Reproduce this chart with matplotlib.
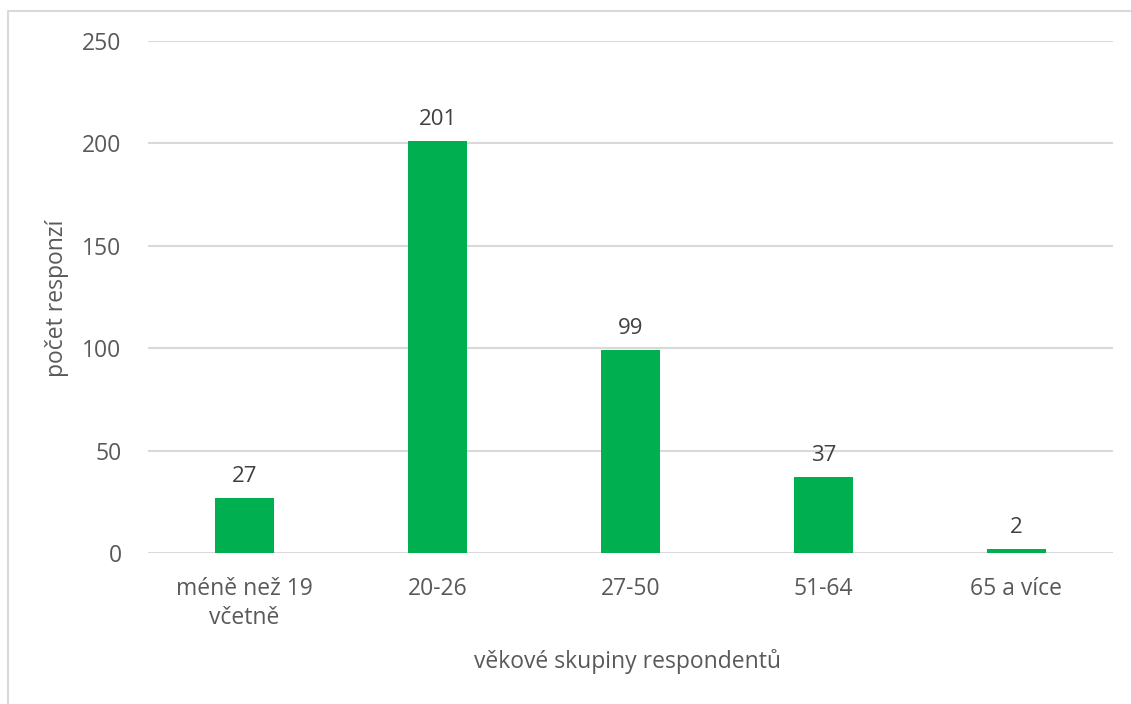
import numpy as np
import matplotlib.pyplot as plt
from matplotlib.lines import Line2D

# data
categories = ['méně než 19\nvčetně', '20-26', '27-50', '51-64', '65 a více']
counts = [27, 201, 99, 37, 2]
yticks = [0, 50, 100, 150, 200, 250]

plt.rcParams['font.family'] = ['Open Sans', 'DejaVu Sans']

W, H = 1131, 704
fig = plt.figure(figsize=(W / 100, H / 100), dpi=100)
ax = fig.add_axes([148 / W, 1 - 553 / H, (1113 - 148) / W, (553 - 41) / H])

x = np.arange(len(categories))
bars = ax.bar(x, counts, width=0.31, color='#00b050', zorder=3)

for rect, val in zip(bars, counts):
    ax.annotate(str(val), (rect.get_x() + rect.get_width() / 2, rect.get_height()),
                xytext=(0, 8), textcoords='offset points',
                ha='center', va='bottom', fontsize=16, color='#404040')

ax.set_xlim(-0.5, len(categories) - 0.5)
ax.set_ylim(0, 250)
ax.set_yticks(yticks)
ax.set_xticks(x)
ax.set_xticklabels(categories, fontsize=16.5, color='#595959', linespacing=1.3)
ax.tick_params(axis='y', labelsize=16.5, labelcolor='#595959', length=0, pad=19)
ax.tick_params(axis='x', length=0, pad=17)
ax.grid(axis='y', color='#d9d9d9', linewidth=1.5, zorder=0)
for s in ax.spines.values():
    s.set_visible(False)

fig.text(57 / W, 1 - 298 / H, 'počet responzí', fontsize=16.5, rotation=90,
         color='#595959', ha='center', va='center')
fig.text(628 / W, 1 - 661 / H, 'věkové skupiny respondentů', fontsize=16.5,
         color='#595959', ha='center', va='center')

# outer chart frame (left and top edges visible)
fig.add_artist(Line2D([8 / W, 8 / W, 1.0], [0.0, 1 - 11 / H, 1 - 11 / H],
                      transform=fig.transFigure, color='#d9d9d9', linewidth=1.5))

fig.savefig('out.png', dpi=100)
